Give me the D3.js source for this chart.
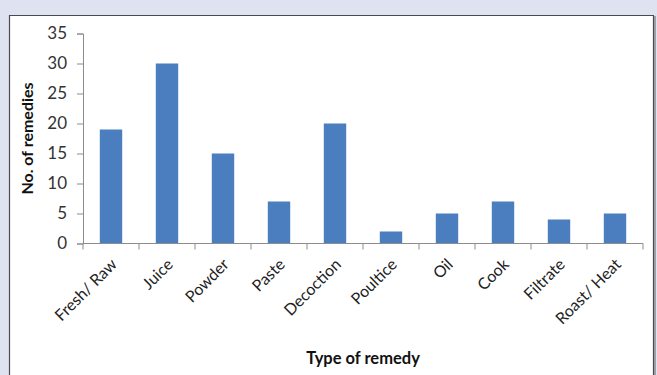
<!DOCTYPE html>
<html><head><meta charset="utf-8">
<script src="https://cdn.jsdelivr.net/npm/d3@7"></script>
<style>body{margin:0;background:#dfe3f1;}svg{display:block;}</style>
</head><body>
<script>
const categories = ["Fresh/ Raw","Juice","Powder","Paste","Decoction","Poultice","Oil","Cook","Filtrate","Roast/ Heat"];
const values = [19,30,15,7,20,2,5,7,4,5];
const yTicks = [0,5,10,15,20,25,30,35];

const W=657,H=375;
const svg=d3.select("body").append("svg").attr("width",W).attr("height",H);
svg.append("rect").attr("width",W).attr("height",H).attr("fill","#dfe3f1");
// panel
svg.append("rect").attr("x",9).attr("y",15).attr("width",645).attr("height",H).attr("fill","#fff");
svg.append("path").attr("d",`M9.5,${H}V15.5H653.5V${H}`).attr("fill","none").attr("stroke","#4a4a50").attr("stroke-width",1.2);
svg.append("line").attr("x1",655).attr("x2",655).attr("y1",16).attr("y2",H).attr("stroke","#8a8a90").attr("stroke-width",1.5);

const x0=83,x1=643,y0=243.5,y1=33.5;
const x=d3.scaleBand().domain(categories).range([x0,x1]).paddingInner(0.6).paddingOuter(0.3);
const y=d3.scaleLinear().domain([0,35]).range([y0,y1]);
const font="Lato, 'Open Sans', sans-serif";

svg.selectAll(".bar").data(values).join("rect")
  .attr("x",(d,i)=>x(categories[i])).attr("width",x.bandwidth())
  .attr("y",d=>y(d)).attr("height",d=>y0-y(d)).attr("fill","#4a7ebe");

// y axis
const ya=svg.append("g").attr("transform",`translate(${x0},0)`)
  .call(d3.axisLeft(y).tickValues(yTicks).tickSize(6).tickPadding(10));
ya.select(".domain").attr("stroke","#8c8c8c");
ya.selectAll(".tick line").attr("stroke","#8c8c8c");
ya.selectAll("text").attr("font-family",font).attr("font-size",17).attr("fill","#333");

// x axis: ticks at boundaries
const step=x.step();
const xa=svg.append("g").attr("transform",`translate(0,${y0})`);
xa.append("line").attr("x1",x0).attr("x2",x1).attr("stroke","#8c8c8c");
const bounds=d3.range(categories.length+1).map(i=>x0+i*step);
xa.selectAll(".tk").data(bounds).join("line").attr("x1",d=>d).attr("x2",d=>d).attr("y1",0).attr("y2",6).attr("stroke","#8c8c8c");
xa.selectAll(".lbl").data(categories).join("text")
  .attr("transform",d=>`translate(${x(d)+x.bandwidth()/2+3},${18}) rotate(-45)`)
  .attr("text-anchor","end").attr("dy","0.35em")
  .attr("font-family",font).attr("font-size",16).attr("fill","#222").text(d=>d);

svg.append("text").attr("transform",`translate(33,${(y0+y1)/2}) rotate(-90)`)
  .attr("text-anchor","middle").attr("font-family",font).attr("font-weight","bold").attr("font-size",16).attr("fill","#111").text("No. of remedies");
svg.append("text").attr("x",(x0+x1)/2).attr("y",364).attr("text-anchor","middle")
  .attr("font-family",font).attr("font-weight","bold").attr("font-size",16.5).attr("fill","#111").text("Type of remedy");
</script>
</body></html>
